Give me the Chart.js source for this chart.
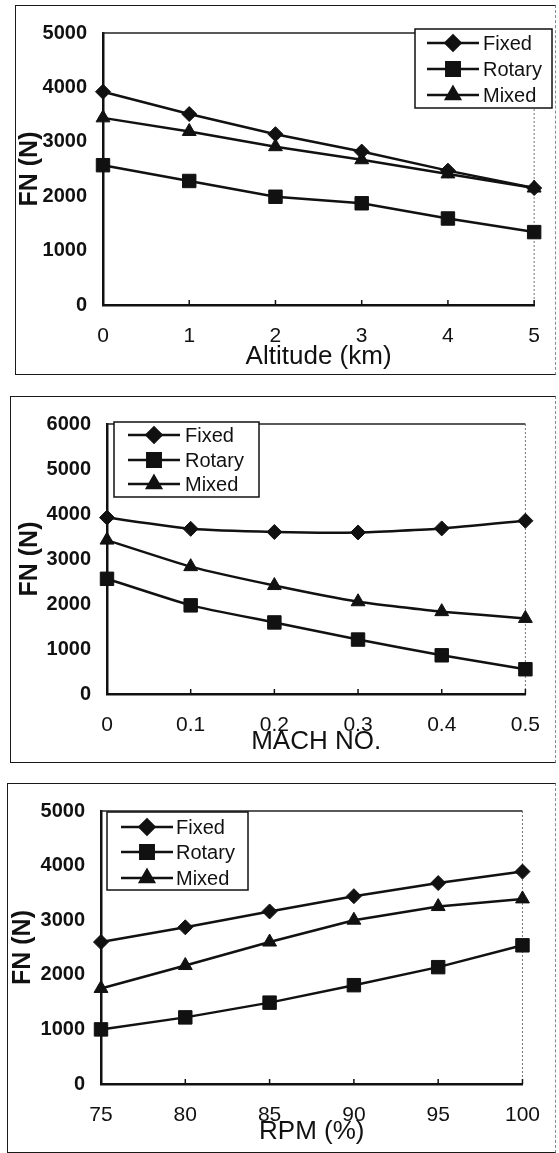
<!DOCTYPE html>
<html>
<head>
<meta charset="utf-8">
<script src="https://cdn.jsdelivr.net/npm/chart.js@4.4.1/dist/chart.umd.min.js"></script>
<style>
  html, body { margin: 0; padding: 0; background: #fff; }
  body { width: 559px; height: 1153px; position: relative; overflow: hidden; }
  .frame { position: absolute; box-sizing: border-box; border: 1.5px solid #1a1a1a; border-right: 1.5px dashed #8a8a8a; }
  canvas { position: absolute; left: 0; }
</style>
</head>
<body>
<script>
// ---- data: thrust FN (N) for the three nozzle types ----
const seriesNames = ['Fixed', 'Rotary', 'Mixed'];

// Altitude sweep
const altitudeLabels = ['0', '1', '2', '3', '4', '5'];
const altitudeFixed  = [3920, 3510, 3140, 2820, 2470, 2150];
const altitudeRotary = [2570, 2280, 1990, 1870, 1590, 1340];
const altitudeMixed  = [3440, 3190, 2910, 2670, 2410, 2150];
const altitudeYTicks = [0, 1000, 2000, 3000, 4000, 5000];

// Mach number sweep
const machLabels = ['0', '0.1', '0.2', '0.3', '0.4', '0.5'];
const machFixed  = [3920, 3670, 3600, 3590, 3680, 3850];
const machRotary = [2560, 1970, 1590, 1210, 860, 550];
const machMixed  = [3420, 2830, 2410, 2050, 1830, 1680];
const machYTicks = [0, 1000, 2000, 3000, 4000, 5000, 6000];

// RPM sweep
const rpmLabels = ['75', '80', '85', '90', '95', '100'];
const rpmFixed  = [2600, 2870, 3160, 3440, 3680, 3890];
const rpmRotary = [1000, 1220, 1490, 1810, 2140, 2540];
const rpmMixed  = [1750, 2170, 2600, 3000, 3250, 3390];
const rpmYTicks = [0, 1000, 2000, 3000, 4000, 5000];

const FONT = "'Liberation Sans', Arial, Helvetica, sans-serif";
const INK = '#111';
const markerStyles = [
  { pointStyle: 'rectRot', radius: 7.5 },
  { pointStyle: 'rect', radius: 9.5 },
  { pointStyle: 'triangle', radius: 8 }
];

// ---- page layout of the three panels (page pixels) ----
const panels = [
  {
    labels: altitudeLabels, series: [altitudeFixed, altitudeRotary, altitudeMixed],
    yTicks: altitudeYTicks, xTitle: 'Altitude (km)', tension: 0,
    frame: { l: 15, t: 5, r: 556, b: 375 },
    area: { l: 103, t: 21, r: 549, b: 305 },
    xTitleY: 357, yTitleX: 30,
    legend: { l: 415, t: 29, r: 552, b: 108, rows: [43, 69, 95], line: [427, 479], text: 483 }
  },
  {
    labels: machLabels, series: [machFixed, machRotary, machMixed],
    yTicks: machYTicks, xTitle: 'MACH NO.', tension: 0.15,
    frame: { l: 10, t: 396, r: 556, b: 763 },
    area: { l: 107, t: 408, r: 539, b: 694 },
    xTitleY: 742, yTitleX: 30,
    legend: { l: 114, t: 422, r: 259, b: 497, rows: [435, 460, 484], line: [128, 180], text: 185 }
  },
  {
    labels: rpmLabels, series: [rpmFixed, rpmRotary, rpmMixed],
    yTicks: rpmYTicks, xTitle: 'RPM (%)', tension: 0,
    frame: { l: 7, t: 783, r: 556, b: 1153 },
    area: { l: 101, t: 799, r: 536, b: 1084 },
    xTitleY: 1132, yTitleX: 23,
    legend: { l: 107, t: 812, r: 248, b: 890, rows: [827, 852, 878], line: [121, 173], text: 176 }
  }
];

// plot-area border, inner x ticks and the boxed legend
const panelDecor = {
  id: 'panelDecor',
  beforeDatasetsDraw(chart, args, opts) {
    const { ctx, chartArea: a } = chart;
    const x = chart.scales.x;
    ctx.save();
    // top border of the plot area
    ctx.strokeStyle = '#222';
    ctx.lineWidth = 1.5;
    ctx.beginPath();
    ctx.moveTo(a.left, a.top);
    ctx.lineTo(a.right, a.top);
    ctx.stroke();
    // dotted right border
    ctx.strokeStyle = '#777';
    ctx.lineWidth = 1;
    ctx.setLineDash([2, 2]);
    ctx.beginPath();
    ctx.moveTo(a.right, a.top);
    ctx.lineTo(a.right, a.bottom);
    ctx.stroke();
    ctx.setLineDash([]);
    // short inward ticks on the x axis
    ctx.strokeStyle = INK;
    ctx.lineWidth = 1.5;
    x.ticks.forEach((t, i) => {
      const px = x.getPixelForTick(i);
      ctx.beginPath();
      ctx.moveTo(px, a.bottom);
      ctx.lineTo(px, a.bottom - 5);
      ctx.stroke();
    });
    ctx.restore();
  },
  afterDraw(chart, args, opts) {
    const L = opts.box;
    if (!L) return;
    const dy = opts.offsetTop;
    const { ctx } = chart;
    ctx.save();
    ctx.fillStyle = '#fff';
    ctx.fillRect(L.l, L.t - dy, L.r - L.l, L.b - L.t);
    ctx.strokeStyle = INK;
    ctx.lineWidth = 1.5;
    ctx.strokeRect(L.l, L.t - dy, L.r - L.l, L.b - L.t);
    chart.data.datasets.forEach((ds, i) => {
      const y = L.rows[i] - dy;
      ctx.strokeStyle = INK;
      ctx.lineWidth = 2.5;
      ctx.beginPath();
      ctx.moveTo(L.line[0], y);
      ctx.lineTo(L.line[1], y);
      ctx.stroke();
      ctx.fillStyle = INK;
      ctx.strokeStyle = INK;
      Chart.helpers.drawPoint(ctx, {
        pointStyle: ds.pointStyle, radius: ds.pointRadius, rotation: 0, borderWidth: 1
      }, (L.line[0] + L.line[1]) / 2, y);
      ctx.fillStyle = INK;
      ctx.font = '20px ' + FONT;
      ctx.textAlign = 'left';
      ctx.textBaseline = 'middle';
      ctx.fillText(ds.label, L.text, y + 1);
    });
    ctx.restore();
  }
};

panels.forEach(p => {
  const f = p.frame;
  const frame = document.createElement('div');
  frame.className = 'frame';
  frame.style.left = f.l + 'px';
  frame.style.top = f.t + 'px';
  frame.style.width = (f.r - f.l) + 'px';
  frame.style.height = (f.b - f.t) + 'px';
  document.body.appendChild(frame);

  const canvasTop = f.t;
  const canvasH = f.b - f.t;
  const canvas = document.createElement('canvas');
  canvas.width = 559;
  canvas.height = canvasH;
  canvas.style.top = canvasTop + 'px';
  document.body.appendChild(canvas);

  const a = p.area;
  const xHeight = canvasH - (a.b - canvasTop);
  const xTitleSize = 26, yTitleSize = 25;
  const xTitlePad = (canvasTop + canvasH) - p.xTitleY - xTitleSize * 1.2 / 2;
  const yTitlePad = p.yTitleX - yTitleSize * 1.2 / 2;

  new Chart(canvas, {
    type: 'line',
    data: {
      labels: p.labels,
      datasets: p.series.map((vals, i) => ({
        label: seriesNames[i],
        data: vals,
        borderColor: INK,
        backgroundColor: INK,
        borderWidth: 2.5,
        pointStyle: markerStyles[i].pointStyle,
        pointRadius: markerStyles[i].radius,
        pointBorderWidth: 1,
        pointBackgroundColor: INK,
        pointBorderColor: INK,
        tension: p.tension,
        clip: false
      }))
    },
    options: {
      responsive: false,
      animation: false,
      devicePixelRatio: 1,
      layout: { padding: { left: 0, top: a.t - canvasTop, right: 559 - a.r, bottom: 0 } },
      plugins: {
        legend: { display: false },
        tooltip: { enabled: false },
        panelDecor: { box: p.legend, offsetTop: canvasTop }
      },
      scales: {
        x: {
          type: 'category',
          offset: false,
          grid: { display: true, drawOnChartArea: false, drawTicks: false },
          border: { display: true, color: INK, width: 2.5 },
          ticks: {
            color: INK, padding: 19, maxRotation: 0, autoSkip: false,
            font: { family: FONT, size: 21 }
          },
          title: {
            display: true, text: p.xTitle, color: INK,
            font: { family: FONT, size: xTitleSize },
            padding: { top: 0, bottom: xTitlePad }
          },
          afterFit(scale) { scale.height = xHeight; }
        },
        y: {
          type: 'linear',
          min: p.yTicks[0],
          max: p.yTicks[p.yTicks.length - 1],
          grid: { display: true, drawOnChartArea: false, drawTicks: false },
          border: { display: true, color: INK, width: 2.5 },
          afterBuildTicks(scale) { scale.ticks = p.yTicks.map(v => ({ value: v })); },
          ticks: {
            color: INK, padding: 16,
            font: { family: FONT, size: 20, weight: 'bold' },
            callback: v => String(v)
          },
          title: {
            display: true, text: 'FN (N)', color: INK,
            font: { family: FONT, size: yTitleSize, weight: 'bold' },
            padding: { top: yTitlePad, bottom: 0 }
          },
          afterFit(scale) { scale.width = a.l; }
        }
      }
    },
    plugins: [panelDecor]
  });
});
</script>
</body>
</html>
